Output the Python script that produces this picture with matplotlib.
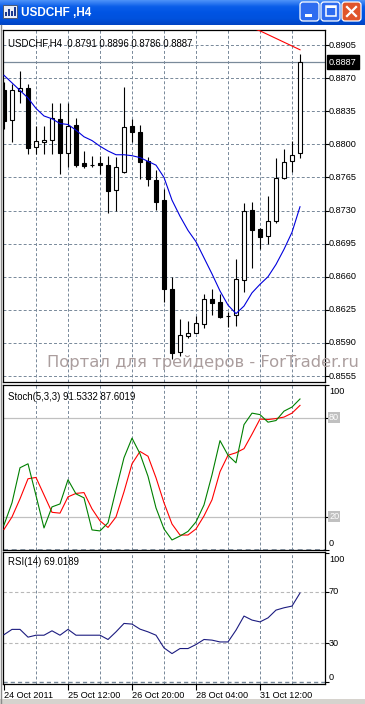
import matplotlib.pyplot as plt
import matplotlib.patches as mpatches
import matplotlib.transforms as mtransforms
from matplotlib.colors import LinearSegmentedColormap
import numpy as np

W, H = 365, 704

# --- data (H4 bars) ---
opens = [0.8857, 0.8826, 0.8856, 0.8860, 0.8797, 0.8802, 0.8805, 0.8827, 0.8791, 0.8820,
         0.8780, 0.87785, 0.8780, 0.8778, 0.8752, 0.8771, 0.8819, 0.8813, 0.8782, 0.8762,
         0.8741, 0.8647, 0.8580, 0.8597, 0.8601, 0.8610, 0.8636, 0.8633, 0.8618, 0.8620,
         0.8657, 0.8731, 0.8711, 0.8703, 0.8719, 0.8764, 0.8782, 0.8791]
highs = [0.8866, 0.8864, 0.8878, 0.8864, 0.8819, 0.8819, 0.8844, 0.8844, 0.8844, 0.8828,
         0.8793, 0.8788, 0.8788, 0.8788, 0.8787, 0.8861, 0.8827, 0.8820, 0.8787, 0.8773,
         0.8753, 0.8660, 0.8615, 0.8613, 0.8618, 0.8642, 0.8647, 0.8642, 0.8623, 0.8679,
         0.8738, 0.8739, 0.8712, 0.8745, 0.8786, 0.8795, 0.8804, 0.8896]
lows = [0.8816, 0.8803, 0.8844, 0.8790, 0.8790, 0.8790, 0.8790, 0.8769, 0.8776, 0.8776,
        0.8775, 0.8776, 0.8769, 0.8727, 0.8729, 0.8770, 0.8803, 0.8763, 0.8756, 0.8731,
        0.8633, 0.8573, 0.8576, 0.8595, 0.8600, 0.8606, 0.8620, 0.8616, 0.8607, 0.8608,
        0.8644, 0.8669, 0.8689, 0.8695, 0.8717, 0.8763, 0.8771, 0.8786]
closes = [0.8825, 0.8857, 0.8860, 0.8796, 0.8804, 0.8805, 0.8828, 0.8791, 0.8819, 0.8778,
          0.8777, 0.87785, 0.8778, 0.8751, 0.8776, 0.8818, 0.8813, 0.8781, 0.8763, 0.8739,
          0.8647, 0.8579, 0.8598, 0.8600, 0.8611, 0.8636, 0.8632, 0.8617, 0.8618, 0.8658,
          0.8730, 0.8709, 0.8702, 0.8719, 0.8764, 0.8781, 0.8789, 0.8887]
ma_blue = [0.8873, 0.8865, 0.8857, 0.8849, 0.8838, 0.8830, 0.8827, 0.8822, 0.8821, 0.8815,
           0.8808, 0.8804, 0.8798, 0.8793, 0.8789, 0.8789, 0.8788, 0.8786, 0.8782, 0.8778,
           0.8765, 0.8741, 0.8724, 0.8709, 0.8697, 0.8680, 0.8663, 0.8645, 0.8630, 0.8621,
           0.8629, 0.8643, 0.8652, 0.8660, 0.8673, 0.8689, 0.8707, 0.8734]
red_bars = [31, 32, 33, 34, 35, 36, 37]
ma_red = [0.8923, 0.8920, 0.8916, 0.8912, 0.8908, 0.8904, 0.8900]

stoch_main = [14.9, 28.4, 49.7, 52.1, 32.8, 13.1, 25.9, 27.7, 42.4, 33.8,
              31.4, 11.9, 11.3, 16.2, 36.3, 55.8, 67.7, 58.2, 44.5, 25.3,
              12.5, 5.8, 8.2, 11.0, 16.8, 27.1, 45.4, 66.2, 57.3, 52.7,
              75.9, 82.9, 82.0, 77.4, 78.4, 84.1, 86.6, 91.5]
stoch_signal = [12.2, 19.8, 30.8, 43.0, 43.8, 33.2, 22.6, 22.1, 32.0, 34.1,
                34.6, 24.7, 17.4, 13.4, 19.8, 35.1, 52.1, 59.6, 56.7, 43.6,
                28.4, 15.5, 8.8, 8.8, 12.5, 20.4, 30.2, 47.3, 57.3, 58.8,
                61.3, 70.1, 79.3, 79.0, 79.6, 80.5, 82.9, 87.6]
rsi = [36.8, 40.9, 40.9, 34.9, 36.4, 36.4, 39.8, 36.4, 40.9, 36.4,
       36.4, 36.4, 36.4, 33.1, 39.0, 45.5, 45.0, 41.1, 39.0, 36.4,
       26.6, 22.2, 26.1, 26.1, 29.2, 33.1, 32.6, 31.2, 31.2, 40.3,
       51.2, 48.1, 46.7, 49.8, 55.8, 57.6, 58.9, 69.0]

price_ticks = [0.8905, 0.8870, 0.8835, 0.8800, 0.8765, 0.8730, 0.8695, 0.8660, 0.8625, 0.8590, 0.8555]
last_price = 0.8887
grid_bars = [4, 8, 12, 16, 20, 24, 28, 32, 36]
date_bars = [0, 8, 16, 24, 32]
date_labels = ["24 Oct 2011", "25 Oct 12:00", "26 Oct 20:00", "28 Oct 04:00", "31 Oct 12:00"]

plt.rcParams['font.family'] = ['Liberation Sans', 'DejaVu Sans']
FS = 6.6
GRID = '#778899'


def rect(l, t, r, b):
    return [l / W, 1 - b / H, (r - l) / W, (b - t) / H]


fig = plt.figure(figsize=(W / 100, H / 100), dpi=100)

# window chrome
bg = fig.add_axes([0, 0, 1, 1], zorder=-5)
bg.set_xlim(0, W)
bg.set_ylim(H, 0)
bg.axis('off')
cmap = LinearSegmentedColormap.from_list('xp', ['#4a90f8', '#0a5ee9', '#0054e3', '#0052de', '#0044c4'])
bg.imshow(np.linspace(0, 1, 26).reshape(-1, 1), extent=(0, W, 25, 0), aspect='auto', cmap=cmap)
bg.add_patch(mpatches.Rectangle((3, 5), 14, 13, fc='#e8eef8', ec='#4a5a78', lw=0.7))
for i, hh in enumerate([4, 7, 5, 9]):
    bg.add_patch(mpatches.Rectangle((5 + i * 3, 16 - hh), 1.6, hh, fc='#1a3a90', lw=0))
bg.text(21, 13, 'USDCHF ,H4', color='white', weight='bold', fontsize=8.5, va='center')
for bx, fc in [(300, '#2e6cf0'), (321, '#2e6cf0'), (342, '#e0552b')]:
    bg.add_patch(mpatches.FancyBboxPatch((bx, 2), 19, 19, boxstyle='round,pad=0,rounding_size=3',
                                         fc=fc, ec='white', lw=0.9))
bg.add_patch(mpatches.Rectangle((305, 14), 7, 2.5, fc='white', lw=0))
bg.add_patch(mpatches.Rectangle((325.5, 6), 10, 10, fc='none', ec='white', lw=1.1))
bg.add_patch(mpatches.Rectangle((325.5, 6), 10, 2, fc='white', lw=0))
bg.plot([347, 356], [7, 16], color='white', lw=1.6)
bg.plot([347, 356], [16, 7], color='white', lw=1.6)
bg.plot([0.5, 0.5], [25, 704], color='#8a8a8a', lw=1)
bg.add_patch(mpatches.Rectangle((0, 699), W, 5, fc='#d6d3ce', lw=0))


def right_label(ax, y, s, dy=0, **kw):
    tr = mtransforms.offset_copy(ax.get_yaxis_transform(), fig=fig, x=4, y=dy, units='dots')
    ax.text(1.0, y, s, transform=tr, fontsize=FS, va='center', ha='left', clip_on=False, **kw)


def setup(ax):
    ax.set_xlim(-0.125, 40.125)
    ax.set_xticks([])
    ax.tick_params(axis='y', which='both', left=False, labelleft=False, right=True,
                   labelright=False, length=3, width=0.8, direction='out')
    for s in ax.spines.values():
        s.set_linewidth(0.9)
        s.set_color('black')
    for b in grid_bars:
        ax.axvline(b, color=GRID, lw=0.7, ls=(0, (3, 2.2)), zorder=0)


# main price panel
ax = fig.add_axes(rect(3, 30, 325, 382))
setup(ax)
ax.set_ylim(0.85487, 0.89209)
ax.set_yticks(price_ticks)
for p in price_ticks:
    ax.axhline(p, color=GRID, lw=0.7, ls=(0, (3, 2.2)), zorder=0)
    right_label(ax, p, f'{p:.4f}')
ax.axhline(last_price, color='#7a8a9a', lw=0.9, zorder=1)
right_label(ax, last_price, f'{last_price:.4f}', color='white',
            bbox=dict(boxstyle='square,pad=0.25', fc='black', ec='black'))

x = np.arange(len(opens))
o = np.array(opens)
c = np.array(closes)
ax.vlines(x, lows, highs, color='black', lw=0.8, zorder=2)
bull = c >= o
ax.bar(x, np.abs(c - o), bottom=np.minimum(o, c), width=0.55,
       color=np.where(bull, 'white', 'black'), edgecolor='black', lw=0.8, zorder=3)
ax.plot(x, ma_blue, color='#0000dd', lw=0.8, zorder=4)
ax.plot(red_bars, ma_red, color='red', lw=0.8, zorder=4)
ax.text(0.015, 0.975, 'USDCHF,H4  0.8791 0.8896 0.8786 0.8887', transform=ax.transAxes,
        fontsize=FS + 0.3, va='top', ha='left')

# stochastic panel
ax2 = fig.add_axes(rect(3, 385, 325, 549.5))
setup(ax2)
ax2.set_ylim(0, 100)
ax2.set_yticks([0, 20, 80, 100])
ax2.axhline(0, color=GRID, lw=1.2, ls=(0, (3, 2.2)), zorder=0)
for lv in [20, 80]:
    ax2.axhline(lv, color='#c0c0c0', lw=0.9, zorder=1)
    right_label(ax2, lv, str(lv), color='white',
                bbox=dict(boxstyle='square,pad=0.1', fc='#c0c0c0', ec='none'))
right_label(ax2, 100, '100', dy=-6)
right_label(ax2, 0, '0', dy=6)
ax2.plot(x, stoch_signal, color='red', lw=0.8, zorder=3)
ax2.plot(x, stoch_main, color='green', lw=0.8, zorder=4)
ax2.text(0.015, 0.96, 'Stoch(5,3,3) 91.5332 87.6019', transform=ax2.transAxes,
         fontsize=FS + 0.3, va='top', ha='left')

# RSI panel
ax3 = fig.add_axes(rect(3, 552, 325, 684))
setup(ax3)
ax3.set_ylim(-1.3, 100.7)
ax3.set_yticks([0, 30, 70, 100])
ax3.axhline(0, color=GRID, lw=1.0, ls=(0, (3, 2.2)), zorder=0)
for lv in [30, 70]:
    ax3.axhline(lv, color='#b8b8b8', lw=0.8, ls=(0, (3, 2.2)), zorder=1)
    right_label(ax3, lv, str(lv))
right_label(ax3, 100, '100', dy=-7)
right_label(ax3, 0, '0', dy=5)
ax3.plot(x, rsi, color='#1c1c80', lw=0.8, zorder=3)
ax3.text(0.015, 0.96, 'RSI(14) 69.0189', transform=ax3.transAxes,
         fontsize=FS + 0.3, va='top', ha='left')
ax3.set_xticks(date_bars)
ax3.set_xticklabels(date_labels, fontsize=FS, ha='left')
ax3.tick_params(axis='x', length=4, width=0.8, pad=1)

# watermark, sized to span the same width as in the screenshot
wm = fig.text(47 / W, 1 - 362 / H, 'Портал для трейдеров - ForTrader.ru', color='#ab9e9e',
              fontsize=12, va='center', ha='left', family='DejaVu Sans', zorder=20)
fig.canvas.draw()
wm_w = wm.get_window_extent().width
wm.set_fontsize(12 * 310 / wm_w)

fig.savefig('out.png', dpi=100)
